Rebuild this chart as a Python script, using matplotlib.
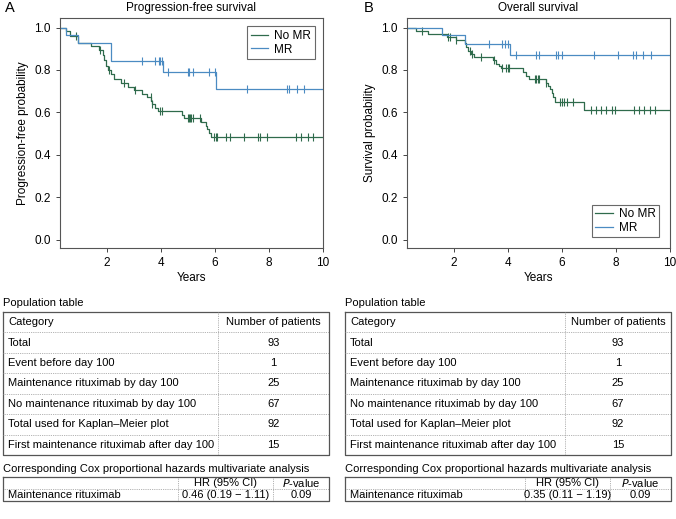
import numpy as np
import matplotlib.pyplot as plt
from matplotlib.lines import Line2D

plt.rcParams['font.family'] = ['Liberation Sans', 'DejaVu Sans']

### DATA ###

green = '#2f6b4c'
blue = '#4b8bc2'

# Panel A: progression-free survival (step times, survival after step, censor times)
pfs_nomr_t = [0.27, 0.50, 0.63, 0.93, 1.42, 1.70, 1.85, 1.91, 1.98, 2.04, 2.16, 2.28, 2.53,
              2.77, 3.02, 3.32, 3.50, 3.63, 3.66, 3.80, 3.90, 4.77, 4.86, 5.47, 5.66, 5.72,
              5.80, 5.85]
pfs_nomr_s = [1.0, 0.985, 0.96, 0.925, 0.912, 0.895, 0.87, 0.845, 0.82, 0.80, 0.78, 0.755, 0.74,
              0.72, 0.705, 0.688, 0.672, 0.655, 0.64, 0.622, 0.606, 0.589, 0.572, 0.555, 0.537,
              0.52, 0.502, 0.484]
pfs_nomr_c = [0.87, 1.75, 2.08, 2.63, 3.05, 3.62, 3.68, 3.98, 4.03, 5.00, 5.04, 5.08, 5.12,
              5.20, 5.45, 5.98, 6.04, 6.08, 6.40, 6.55, 7.07, 7.60, 7.66, 7.93, 9.00, 9.20,
              9.45, 9.62]
pfs_mr_t = [0.27, 0.50, 0.93, 2.16, 4.09, 6.05]
pfs_mr_s = [1.0, 0.967, 0.925, 0.843, 0.792, 0.711]
pfs_mr_c = [3.30, 3.80, 3.92, 3.98, 4.03, 4.28, 5.00, 5.05, 5.18, 5.80, 6.00, 7.17, 8.65,
            8.75, 9.03, 9.30]

# Panel B: overall survival
os_nomr_t = [0.27, 0.59, 1.06, 1.75, 2.10, 2.40, 2.45, 2.53, 2.65, 2.75, 3.45, 3.57, 3.66,
             3.75, 4.55, 4.67, 4.80, 5.40, 5.48, 5.55, 5.62, 5.66, 5.74, 6.82]
os_nomr_s = [1.0, 0.985, 0.97, 0.955, 0.94, 0.925, 0.91, 0.89, 0.875, 0.86, 0.845, 0.83, 0.82,
             0.81, 0.79, 0.772, 0.755, 0.74, 0.725, 0.71, 0.69, 0.672, 0.65, 0.61]
os_nomr_c = [0.81, 1.79, 1.85, 2.10, 2.59, 2.68, 3.02, 3.50, 3.78, 3.94, 4.00, 4.06, 5.00,
             5.04, 5.10, 5.16, 5.42, 5.94, 6.00, 6.06, 6.20, 6.40, 7.07, 7.25, 7.44, 7.63,
             7.87, 7.97, 8.66, 8.85, 9.05, 9.25, 9.45]
os_mr_t = [0.27, 1.55, 2.40, 4.08]
os_mr_s = [1.0, 0.965, 0.922, 0.872]
os_mr_c = [3.29, 3.78, 3.91, 4.00, 4.30, 5.04, 5.17, 5.80, 5.87, 6.00, 7.17, 8.08, 8.64,
           8.73, 9.00, 9.28]

# Tables
pop_header = ['Category', 'Number of patients']
pop_categories = ['Total', 'Event before day 100', 'Maintenance rituximab by day 100',
                  'No maintenance rituximab by day 100', 'Total used for Kaplan\u2013Meier plot',
                  'First maintenance rituximab after day 100']
pop_counts = ['93', '1', '25', '67', '92', '15']
cox_variable = 'Maintenance rituximab'
cox_hr = ['0.46 (0.19 \u2212 1.11)', '0.35 (0.11 \u2212 1.19)']
cox_p = ['0.09', '0.09']

### FIGURE ###

W, H = 676, 519
fig = plt.figure(figsize=(W / 100, H / 100), dpi=100)

# overlay for labels and tables, in pixel coordinates
ov = fig.add_axes([0, 0, 1, 1])
ov.set_xlim(0, W)
ov.set_ylim(H, 0)
ov.axis('off')


def px_axes(x0, y0, x1, y1):
    return fig.add_axes([x0 / W, 1 - y1 / H, (x1 - x0) / W, (y1 - y0) / H])


def km(ax, t, s, c, color, label):
    t = np.array(t + [10.0])
    s = np.array(s + [s[-1]])
    ax.step(t, s, where='post', color=color, lw=0.9, label=label)
    idx = np.searchsorted(t, c, side='right') - 1
    ax.plot(c, s[idx], ls='none', marker='|', ms=5.5, mew=0.8, color=color)


def style(ax, ylabel, title):
    ax.set_xlim(0.27, 10)
    ax.set_ylim(-0.04, 1.045)
    ax.set_xticks([2, 4, 6, 8, 10])
    ax.set_yticks([0, 0.2, 0.4, 0.6, 0.8, 1.0])
    ax.set_yticklabels(['0.0', '0.2', '0.4', '0.6', '0.8', '1.0'])
    ax.tick_params(labelsize=8.5, length=3, width=0.7, color='#444')
    for sp in ax.spines.values():
        sp.set_color('#555')
        sp.set_linewidth(0.8)
    ax.set_xlabel('Years', fontsize=8.5, labelpad=2)
    ax.set_ylabel(ylabel, fontsize=8.5, labelpad=4)
    ax.set_title(title, fontsize=8.5, pad=5)


axA = px_axes(60, 18, 323, 248)
km(axA, pfs_nomr_t, pfs_nomr_s, pfs_nomr_c, green, 'No MR')
km(axA, pfs_mr_t, pfs_mr_s, pfs_mr_c, blue, 'MR')
style(axA, 'Progression-free probability', 'Progression-free survival')
legA = axA.legend(loc='upper right', fontsize=8.5, fancybox=False, edgecolor='#444',
                  handlelength=1.5, borderaxespad=0.7, borderpad=0.3, labelspacing=0.15,
                  handletextpad=0.5)
legA.get_frame().set_linewidth(0.8)

axB = px_axes(407, 18, 670, 248)
km(axB, os_nomr_t, os_nomr_s, os_nomr_c, green, 'No MR')
km(axB, os_mr_t, os_mr_s, os_mr_c, blue, 'MR')
style(axB, 'Survival probability', 'Overall survival')
legB = axB.legend(loc='lower right', fontsize=8.5, fancybox=False, edgecolor='#444',
                  handlelength=1.5, borderaxespad=0.9, borderpad=0.3, labelspacing=0.15,
                  handletextpad=0.5)
legB.get_frame().set_linewidth(0.8)

ov.text(5, 8, 'A', fontsize=10.5, va='center')
ov.text(364, 8, 'B', fontsize=10.5, va='center')

fs = 8
solid = dict(color='#555', lw=0.9)
dotted = dict(color='#999', lw=0.6, ls=(0, (1, 1.2)))


def box(x0, y0, x1, y1):
    ov.add_line(Line2D([x0, x1, x1, x0, x0], [y0, y0, y1, y1, y0], **solid))


def tables(x0, x1, xdiv, xc1, xc2, hr, p):
    top, bot = 312, 455
    ov.text(x0, 303, 'Population table', fontsize=fs, va='center')
    rows = [pop_header] + [[a, b] for a, b in zip(pop_categories, pop_counts)]
    rh = (bot - top) / len(rows)
    box(x0, top, x1, bot)
    ov.add_line(Line2D([xdiv, xdiv], [top, bot], **dotted))
    for i, (cat, n) in enumerate(rows):
        yc = top + rh * (i + 0.5)
        if i > 0:
            ov.add_line(Line2D([x0, x1], [top + rh * i] * 2, **dotted))
        ov.text(x0 + 5, yc, cat, fontsize=fs, va='center')
        ov.text((xdiv + x1) / 2, yc, n, fontsize=fs, va='center', ha='center')

    ov.text(x0, 469, 'Corresponding Cox proportional hazards multivariate analysis',
            fontsize=fs, va='center')
    ctop, cbot = 477, 501
    cm = (ctop + cbot) / 2
    ov.add_line(Line2D([x0, x1], [cm, cm], **dotted))
    for xd in (xc1, xc2):
        ov.add_line(Line2D([xd, xd], [ctop, cbot], **dotted))
    box(x0, ctop, x1, cbot)
    y1, y2 = (ctop + cm) / 2, (cm + cbot) / 2
    ov.text((xc1 + xc2) / 2, y1, 'HR (95% CI)', fontsize=fs, va='center', ha='center')
    ov.text((xc2 + x1) / 2, y1, '$\\it{P}$-value', fontsize=fs, va='center', ha='center')
    ov.text(x0 + 5, y2, cox_variable, fontsize=fs, va='center')
    ov.text((xc1 + xc2) / 2, y2, hr, fontsize=fs, va='center', ha='center')
    ov.text((xc2 + x1) / 2, y2, p, fontsize=fs, va='center', ha='center')


tables(3, 329, 218, 178, 273, cox_hr[0], cox_p[0])
tables(345, 671, 565, 525, 610, cox_hr[1], cox_p[1])

fig.savefig('out.png', dpi=100)
